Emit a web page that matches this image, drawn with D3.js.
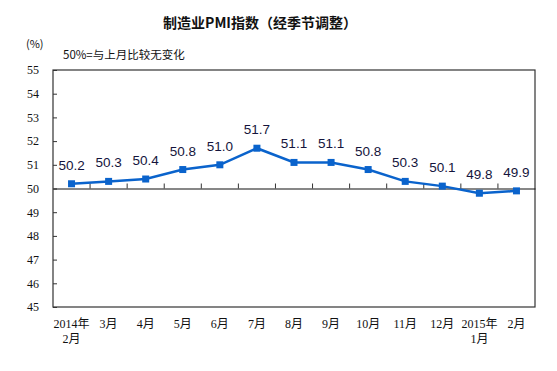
<!DOCTYPE html>
<html>
<head>
<meta charset="utf-8">
<script src="https://cdn.jsdelivr.net/npm/d3@7"></script>
<style>
  body { margin: 0; background: #fff; }
</style>
</head>
<body>
<svg id="chart" width="557" height="371"></svg>
<script>
// data
var months = ['2014年\n2月', '3月', '4月', '5月', '6月', '7月', '8月', '9月', '10月', '11月', '12月', '2015年\n1月', '2月'];
var pmi = [50.2, 50.3, 50.4, 50.8, 51.0, 51.7, 51.1, 51.1, 50.8, 50.3, 50.1, 49.8, 49.9];
var yTicks = [45, 46, 47, 48, 49, 50, 51, 52, 53, 54, 55];

var svg = d3.select('#chart'),
  pLeft = 53, pRight = 535, pTop = 70, pBottom = 307;

var x = d3.scaleBand().domain(months).range([pLeft, pRight]);
var y = d3.scaleLinear().domain([45, 55]).range([pBottom, pTop]);

var serif = '"Liberation Serif", "Noto Sans CJK SC", serif';
var cjk = '"Noto Sans CJK SC", sans-serif';

// title
svg.append('text')
  .attr('x', 260).attr('y', 28)
  .attr('text-anchor', 'middle')
  .style('font-family', cjk)
  .style('font-weight', 'bold')
  .style('font-size', '14px')
  .style('fill', '#111')
  .text('制造业PMI指数（经季节调整）');

svg.append('text')
  .attr('x', 26).attr('y', 48)
  .style('font-family', cjk)
  .style('font-size', '11px')
  .style('fill', '#111')
  .text('(%)');

svg.append('text')
  .attr('x', 63).attr('y', 59)
  .style('font-family', cjk)
  .style('font-size', '11.5px')
  .style('fill', '#111')
  .text('50%=与上月比较无变化');

// y axis
var yAxis = svg.append('g')
  .attr('transform', 'translate(' + pLeft + ',0)')
  .call(d3.axisLeft(y).tickValues(yTicks).tickSize(-4).tickPadding(14).tickFormat(d3.format('d')));
yAxis.select('.domain').remove();
yAxis.selectAll('line').attr('stroke', '#333');
yAxis.selectAll('text')
  .style('font-family', serif)
  .style('font-size', '12px')
  .style('fill', '#111');

// frame
svg.append('rect')
  .attr('x', pLeft).attr('y', pTop)
  .attr('width', pRight - pLeft).attr('height', pBottom - pTop)
  .attr('fill', 'none')
  .attr('stroke', '#333')
  .attr('stroke-width', 1.2);

// 50 line with category ticks
var xAxis = svg.append('g')
  .attr('transform', 'translate(0,' + y(50) + ')')
  .call(d3.axisTop(x).tickSize(0).tickFormat(''));
xAxis.select('.domain').attr('stroke', '#111').attr('stroke-width', 1.2);
xAxis.selectAll('.tick').remove();
xAxis.selectAll('.sep')
  .data(months.slice(1))
  .enter().append('line')
  .attr('x1', function (d) { return x(d); })
  .attr('x2', function (d) { return x(d); })
  .attr('y1', 0).attr('y2', -5)
  .attr('stroke', '#333');

// x labels
var xl = svg.append('g');
months.forEach(function (m) {
  var lines = m.split('\n');
  lines.forEach(function (t, i) {
    xl.append('text')
      .attr('x', x(m) + x.bandwidth() / 2)
      .attr('y', 328 + i * 15)
      .attr('text-anchor', 'middle')
      .style('font-family', serif)
      .style('font-size', '12px')
      .style('fill', '#111')
      .text(t);
  });
});

// line
var cx = function (d, i) { return x(months[i]) + x.bandwidth() / 2; };
svg.append('path')
  .datum(pmi)
  .attr('fill', 'none')
  .attr('stroke', '#0A63CC')
  .attr('stroke-width', 2.5)
  .attr('d', d3.line().x(cx).y(function (d) { return y(d); }));

svg.selectAll('.pt')
  .data(pmi)
  .enter().append('rect')
  .attr('x', function (d, i) { return cx(d, i) - 3.5; })
  .attr('y', function (d) { return y(d) - 3.5; })
  .attr('width', 7).attr('height', 7)
  .attr('fill', '#0A63CC');

svg.selectAll('.lbl')
  .data(pmi)
  .enter().append('text')
  .attr('x', cx)
  .attr('y', function (d) { return y(d) - 14; })
  .attr('text-anchor', 'middle')
  .style('font-family', '"Liberation Sans", Arial, sans-serif')
  .style('font-size', '13.5px')
  .style('fill', '#14143c')
  .text(function (d) { return d.toFixed(1); });
</script>
</body>
</html>
